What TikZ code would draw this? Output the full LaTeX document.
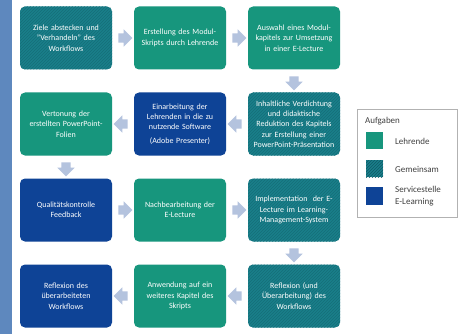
\documentclass[tikz,border=0pt]{standalone}
\usepackage{fontspec}
\setmainfont{Carlito}
\usetikzlibrary{shapes.arrows,patterns,calc}
\definecolor{lehrc}{HTML}{17967D}
\definecolor{gemc}{HTML}{1A7F8A}
\definecolor{gemd}{HTML}{156E78}
\definecolor{gemleg}{HTML}{0F5A66}
\definecolor{servc}{HTML}{0E4396}
\definecolor{arrc}{HTML}{B4C3DE}
\definecolor{barc}{HTML}{5E88BE}
\definecolor{legtext}{HTML}{404040}
\begin{document}
\begin{tikzpicture}[x=1pt,y=-1pt,
  box/.style={rounded corners=5pt, minimum width=92pt, minimum height=63pt,
    text width=91pt, align=center, text=white, inner sep=0.5pt,
    font=\fontsize{8}{10.3}\selectfont},
  lehr/.style={box, fill=lehrc},
  gem/.style={box, fill=gemc, postaction={pattern=north east lines, pattern color=gemd}},
  serv/.style={box, fill=servc},
  blk/.style={single arrow, fill=arrc, draw=none, minimum height=14pt,
    minimum width=17pt, inner xsep=2pt, inner ysep=4.5pt,
    single arrow head extend=4pt},
  legtxt/.style={anchor=west, text=legtext, font=\fontsize{9}{11.5}\selectfont, align=left, inner sep=0pt}
]
\useasboundingbox (0,0) rectangle (462,334);
\fill[white] (0,0) rectangle (462,334);
\fill[barc] (0,0) rectangle (12,334);

% row 1
\node[gem]  (a1) at (66,38)  {Ziele abstecken und\\ "Verhandeln" des\\ Workflows};
\node[lehr] (a2) at (180,38) {Erstellung des Modul-\\Skripts durch Lehrende};
\node[lehr] (a3) at (294,38) {Auswahl eines Modul-\\kapitels zur Umsetzung\\ in einer E-Lecture};
% row 2
\node[lehr] (b1) at (66,124) {Vertonung der\\ erstellten PowerPoint-\\Folien};
\node[serv] (b2) at (180,124) {Einarbeitung der\\ Lehrenden in die zu\\ nutzende Software\\[3pt] (Adobe Presenter)};
\node[gem]  (b3) at (294,124) {Inhaltliche Verdichtung\\ und didaktische\\ Reduktion des Kapitels\\ zur Erstellung einer\\ PowerPoint-Präsentation};
% row 3
\node[serv] (c1) at (66,210) {Qualitätskontrolle\\ Feedback};
\node[lehr] (c2) at (180,210) {Nachbearbeitung der\\ E-Lecture};
\node[gem]  (c3) at (294,210) {Implementation \ der E-\\Lecture im Learning-\\Management-System};
% row 4
\node[serv] (d1) at (66,296) {Reflexion des\\ überarbeiteten\\ Workflows};
\node[lehr] (d2) at (180,296) {Anwendung auf ein\\ weiteres Kapitel des\\ Skripts};
\node[gem]  (d3) at (294,296) {Reflexion (und\\ Überarbeitung) des\\ Workflows};

% arrows
\node[blk] at ($(a1.east)!0.5!(a2.west)$) {};
\node[blk] at ($(a2.east)!0.5!(a3.west)$) {};
\node[blk, rotate=-90] at ($(a3.south)!0.5!(b3.north)$) {};
\node[blk, rotate=180] at ($(b3.west)!0.5!(b2.east)$) {};
\node[blk, rotate=180] at ($(b2.west)!0.5!(b1.east)$) {};
\node[blk, rotate=-90] at ($(b1.south)!0.5!(c1.north)$) {};
\node[blk] at ($(c1.east)!0.5!(c2.west)$) {};
\node[blk] at ($(c2.east)!0.5!(c3.west)$) {};
\node[blk, rotate=-90] at ($(c3.south)!0.5!(d3.north)$) {};
\node[blk, rotate=180] at ($(d3.west)!0.5!(d2.east)$) {};
\node[blk, rotate=180] at ($(d2.west)!0.5!(d1.east)$) {};

% legend
\draw[gray!60, line width=0.6pt] (357,109) rectangle (457,217);
\node[legtxt] (lt) at (365,121) {Aufgaben};
\fill[lehrc] (366,132) rectangle (383,149);
\node[legtxt] (l1) at (395,141) {Lehrende};
\fill[gemc] (366,160) rectangle (383,177);
\fill[pattern=north east lines, pattern color=gemleg] (366,160) rectangle (383,177);
\node[legtxt] (l2) at (395,169) {Gemeinsam};
\fill[servc] (366,187) rectangle (383,205);
\node[legtxt] (l3) at (395,196) {Servicestelle\\E-Learning};
\end{tikzpicture}
\end{document}
